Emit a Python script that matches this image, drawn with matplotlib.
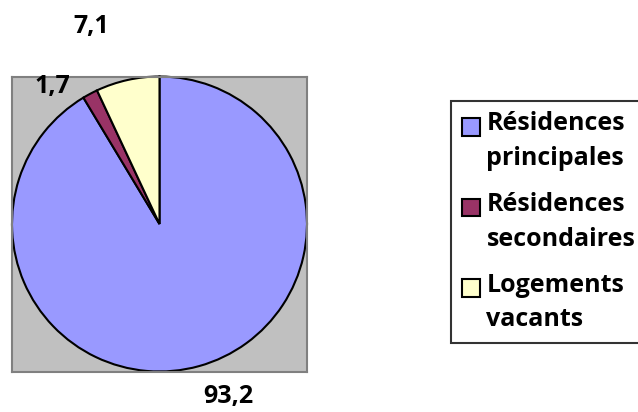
import matplotlib
matplotlib.use("Agg")
import matplotlib.pyplot as plt

categories = ["Résidences\nprincipales", "Résidences\nsecondaires", "Logements\nvacants"]
values = [93.2, 1.7, 7.1]
value_labels = ["93,2", "1,7", "7,1"]
colors = ["#9999FF", "#993366", "#FFFFCC"]

plt.rcParams["font.family"] = ["Open Sans", "DejaVu Sans"]

fig = plt.figure(figsize=(6.38, 4.12), dpi=100)
ax = fig.add_axes([12 / 638, 40 / 412, 295 / 638, 296 / 412])
ax.set_facecolor("#C0C0C0")
for s in ax.spines.values():
    s.set_color("#808080")
    s.set_linewidth(1.5)
    s.set_visible(True)

wedges, _ = ax.pie(values, colors=colors, startangle=90, counterclock=False,
                   wedgeprops=dict(edgecolor="black", linewidth=1.5))
ax.set_xlim(-1.0, 1.0)
ax.set_ylim(-1.0, 1.0)
ax.set_frame_on(True)
ax.set_xticks([])
ax.set_yticks([])

# data labels, placed as in the original
label_pos = [(228, 397), (52, 87), (91, 27)]
for txt, (px, py) in zip(value_labels, label_pos):
    fig.text(px / 638, 1 - py / 412, txt, ha="center", va="center",
             fontsize=18, fontweight="bold")

leg = fig.legend(wedges, categories, loc="upper left",
                 bbox_to_anchor=(451 / 638, 1 - 101 / 412),
                 frameon=True, fancybox=False,
                 prop=dict(weight="bold", size=18),
                 handlelength=0.72, handleheight=0.72, handletextpad=0.28,
                 labelspacing=0.85, borderpad=0.42, borderaxespad=0)
leg.get_frame().set_edgecolor("black")
leg.get_frame().set_linewidth(1.5)
for t in leg.get_texts():
    t.set_linespacing(1.5)
for h in leg.legend_handles:
    h.set_edgecolor("black")
    h.set_linewidth(1.5)
    # put the square beside the first line of the label
    h.set_y(h.get_y() + 11)

fig.savefig("out.png", dpi=100)
